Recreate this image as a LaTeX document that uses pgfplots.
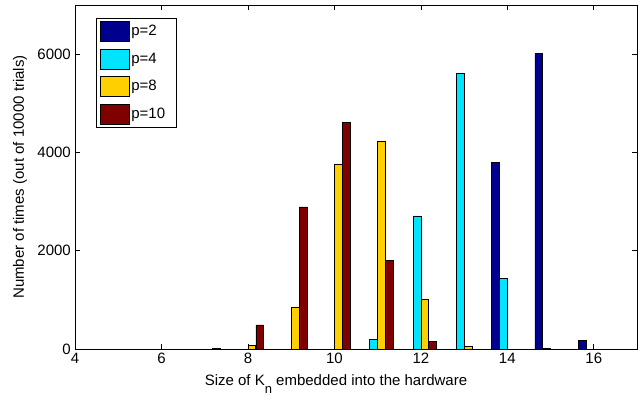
\documentclass[border=0pt]{standalone}
\usepackage{fontspec}
\setmainfont{Liberation Sans}
\usepackage{pgfplots}
\pgfplotsset{compat=1.18}
\definecolor{cA}{RGB}{0,0,143}
\definecolor{cB}{RGB}{0,228,255}
\definecolor{cC}{RGB}{255,208,0}
\definecolor{cD}{RGB}{128,0,0}
\pgfplotsset{
  mybar/.style={ybar, bar width=0.18, draw=black, line width=0.6pt,
    legend image code/.code={\draw[##1,draw=black,line width=0.6pt] (0bp,-10bp) rectangle (29bp,10bp);}},
}
\newcommand{\legtxt}[1]{\makebox[39bp][l]{#1}}
\begin{document}
\fontsize{15bp}{18bp}\selectfont
\begin{tikzpicture}
\begin{axis}[
  width=562bp, height=344bp, scale only axis,
  xmin=4, xmax=17, ymin=0, ymax=7000,
  xtick={4,6,...,16}, ytick={0,2000,4000,6000},
  tick align=inside, xtick pos=both, ytick pos=both,
  major tick length=5bp,
  axis line style={line width=0.6pt}, tick style={line width=0.6pt, black},
  /pgf/number format/assume math mode=true,
  scaled y ticks=false,
  yticklabel style={/pgf/number format/set thousands separator={}, font=\fontsize{15bp}{18bp}\selectfont, xshift=1bp},
  xticklabel style={font=\fontsize{15bp}{18bp}\selectfont, yshift=1bp},
  xlabel={Size of K\raisebox{-1.0ex}{\fontsize{13bp}{15bp}\selectfont n} embedded into the hardware},
  ylabel={Number of times (out of 10000 trials)},
  xlabel style={at={([xshift=-20bp,yshift=-35bp]axis description cs:0.5,0)}, anchor=center},
  ylabel style={at={([xshift=-55bp]axis description cs:0,0.5)}, anchor=center},
  legend style={at={(0,1)}, anchor=north west, xshift=21bp, yshift=-13bp,
    draw=black, line width=0.6pt, fill=white, row sep=7bp, inner xsep=4bp, inner ysep=3bp,
    nodes={inner sep=1.5bp, anchor=west}},
  legend cell align=left,
]
\addplot[mybar, fill=cA, bar shift=-0.273] coordinates {(14,3790) (15,6010) (16,180)};
\addplot[mybar, fill=cB, bar shift=-0.091] coordinates {(11,200) (12,2710) (13,5600) (14,1440) (15,20)};
\addplot[mybar, fill=cC, bar shift=0.091] coordinates {(8,80) (9,855) (10,3765) (11,4230) (12,1020) (13,45)};
\addplot[mybar, fill=cD, bar shift=0.273] coordinates {(7,20) (8,490) (9,2890) (10,4605) (11,1800) (12,160)};
\legend{\legtxt{p=2},\legtxt{p=4},\legtxt{p=8},\legtxt{p=10}}
\end{axis}
\path ([shift={(-75bp,-53bp)}]current axis.south west) rectangle ([shift={(5bp,5bp)}]current axis.north east);
\end{tikzpicture}
\end{document}
